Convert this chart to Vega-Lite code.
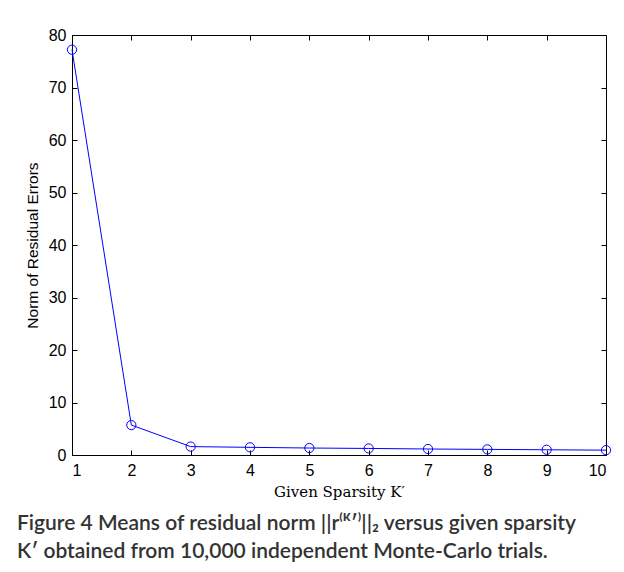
{
  "$schema": "https://vega.github.io/schema/vega-lite/v6.json",
  "width": 534,
  "height": 420,
  "autosize": {"type": "none"},
  "padding": {"left": 72, "top": 35, "right": 18, "bottom": 117},
  "background": "white",
  "title": {
    "text": ["Figure 4 Means of residual norm ||r⁽ᴷ′⁾||₂ versus given sparsity", "K′ obtained from 10,000 independent Monte-Carlo trials."],
    "orient": "bottom",
    "anchor": "start",
    "frame": "group",
    "dx": -55,
    "offset": 14,
    "font": "Lato",
    "fontSize": 21,
    "fontWeight": 600,
    "color": "#333333",
    "lineHeight": 28
  },
  "data": {
    "values": [
      {"k": 1, "v": 77.2},
      {"k": 2, "v": 5.7},
      {"k": 3, "v": 1.6},
      {"k": 4, "v": 1.46},
      {"k": 5, "v": 1.33},
      {"k": 6, "v": 1.25},
      {"k": 7, "v": 1.14},
      {"k": 8, "v": 1.07},
      {"k": 9, "v": 1.0},
      {"k": 10, "v": 0.92}
    ]
  },
  "layer": [
    {
      "mark": {
        "type": "line",
        "color": "#0000ff",
        "strokeWidth": 1,
        "clip": false,
        "point": {"filled": false, "shape": "circle", "size": 85, "color": "#0000ff", "strokeWidth": 1}
      },
      "encoding": {
        "x": {
          "field": "k",
          "type": "quantitative",
          "scale": {"domain": [1, 10], "nice": false, "zero": false},
          "axis": {
            "orient": "bottom",
            "values": [1, 2, 3, 4, 5, 6, 7, 8, 9, 10],
            "title": "Given Sparsity K′",
            "titleFont": "DejaVu Serif",
            "titleFontSize": 15,
            "titleFontWeight": "normal",
            "titlePadding": 6,
            "labelPadding": 12
          }
        },
        "y": {
          "field": "v",
          "type": "quantitative",
          "scale": {"domain": [0, 80], "nice": false},
          "axis": {
            "orient": "left",
            "values": [0, 10, 20, 30, 40, 50, 60, 70, 80],
            "title": "Norm of Residual Errors",
            "titleFont": "Liberation Sans",
            "titleFontSize": 15.5,
            "titleFontWeight": "normal",
            "titlePadding": 8,
            "labelPadding": 11
          }
        }
      }
    },
    {
      "mark": {"type": "point", "opacity": 0},
      "encoding": {
        "x": {
          "field": "k",
          "type": "quantitative",
          "scale": {"domain": [1, 10], "nice": false, "zero": false},
          "axis": {"orient": "top", "values": [1, 2, 3, 4, 5, 6, 7, 8, 9, 10], "labels": false, "title": null}
        },
        "y": {
          "field": "v",
          "type": "quantitative",
          "scale": {"domain": [0, 80], "nice": false},
          "axis": {"orient": "right", "values": [0, 10, 20, 30, 40, 50, 60, 70, 80], "labels": false, "title": null}
        }
      }
    }
  ],
  "resolve": {"axis": {"x": "independent", "y": "independent"}},
  "config": {
    "view": {"stroke": "black", "strokeWidth": 1},
    "axis": {
      "grid": false,
      "domain": false,
      "ticks": true,
      "tickSize": -5,
      "tickColor": "#000000",
      "tickWidth": 1,
      "labelFont": "Liberation Sans",
      "labelFontSize": 16,
      "labelColor": "#000000",
      "titleColor": "#000000"
    }
  }
}
